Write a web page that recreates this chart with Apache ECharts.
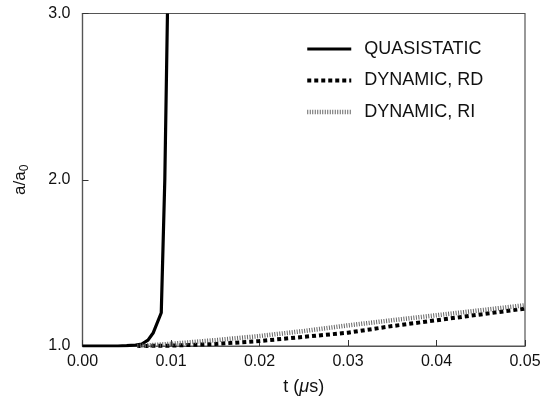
<!DOCTYPE html>
<html>
<head>
<meta charset="utf-8">
<script src="https://cdn.jsdelivr.net/npm/echarts@6/dist/echarts.min.js"></script>
<style>
html, body { margin: 0; padding: 0; background: #fff; }
#chart { width: 546px; height: 401px; }
</style>
</head>
<body>
<div id="chart"></div>
<script>
// 数据
var seriesNames = ['QUASISTATIC', 'DYNAMIC, RD', 'DYNAMIC, RI'];
var tQuasi = [0, 0.002, 0.004, 0.005, 0.006, 0.0067, 0.0074, 0.008, 0.0089, 0.0093, 0.0096];
var aQuasi = [1.0, 1.0, 1.0, 1.002, 1.006, 1.012, 1.035, 1.08, 1.2, 2.0, 3.0];
var tDyn = [0.0062, 0.01, 0.015, 0.02, 0.025, 0.03, 0.035, 0.04, 0.045, 0.05];
var aRD = [1.0, 1.002, 1.012, 1.03, 1.055, 1.08, 1.12, 1.155, 1.19, 1.225];
var aRI = [1.0, 1.013, 1.035, 1.06, 1.09, 1.124, 1.155, 1.185, 1.215, 1.245];
var xTicks = [0, 0.01, 0.02, 0.03, 0.04, 0.05];
var yTicks = [1, 2, 3];

function pairs(xs, ys) {
	var out = [];
	for (var i = 0; i < xs.length; i++) out.push([xs[i], ys[i]]);
	return out;
}

var myChart = echarts.init(document.getElementById('chart'));
var font = 'Liberation Sans, Arial, sans-serif';

// 三条线的样式
var styles = [
	{ color: '#000', width: 3.2 },
	{ color: '#000', width: 4, type: [4, 3] },
	{ color: '#666', width: 4.5, type: [1, 1.5] }
];

var option = {
	animation: false,
	grid: { left: 82.5, right: 21, top: 13.5, bottom: 54.5, show: true, borderColor: '#555', borderWidth: 1.2 },
	legend: {
		data: seriesNames.map(function (n, i) {
			return { name: n, lineStyle: styles[i] };
		}),
		orient: 'vertical',
		left: 300,
		top: 35,
		itemWidth: 44,
		itemHeight: 12,
		itemGap: 13.5,
		itemStyle: { opacity: 0 },
		textStyle: { fontFamily: font, fontSize: 18, color: '#111', padding: [0, 0, 0, 8] }
	},
	xAxis: {
		type: 'value',
		min: 0, max: 0.05, interval: 0.01,
		name: '{t|t (}{i|μ}{t|s)}',
		nameLocation: 'middle',
		nameGap: 32,
		nameTextStyle: {
			rich: {
				t: { fontFamily: font, fontSize: 18, color: '#111' },
				i: { fontFamily: font, fontSize: 18, fontStyle: 'italic', color: '#111' }
			}
		},
		axisLine: { lineStyle: { color: '#555', width: 1.2 } },
		axisTick: { inside: true, length: 6, lineStyle: { color: '#333' } },
		splitLine: { show: false },
		axisLabel: {
			fontFamily: font, fontSize: 16, color: '#111', margin: 8,
			formatter: function (v) { return v.toFixed(2); }
		}
	},
	yAxis: {
		type: 'value',
		min: 1, max: 3, interval: 1,
		name: '{a|a/a}{s|0}',
		nameLocation: 'middle',
		nameGap: 52,
		nameRotate: 90,
		nameTextStyle: {
			rich: {
				a: { fontFamily: font, fontSize: 17, color: '#111' },
				s: { fontFamily: font, fontSize: 12, color: '#111', padding: [9, 0, 0, 0] }
			}
		},
		axisLine: { lineStyle: { color: '#555', width: 1.2 } },
		axisTick: { inside: true, length: 6, lineStyle: { color: '#333' } },
		splitLine: { show: false },
		axisLabel: {
			fontFamily: font, fontSize: 16, color: '#111', margin: 12,
			formatter: function (v) { return v.toFixed(1); }
		}
	},
	series: [{
		name: seriesNames[0],
		type: 'line',
		data: pairs(tQuasi, aQuasi),
		symbol: 'none',
		lineStyle: styles[0],
		itemStyle: { color: styles[0].color }
	}, {
		name: seriesNames[1],
		type: 'line',
		data: pairs(tDyn, aRD),
		symbol: 'none',
		lineStyle: styles[1],
		itemStyle: { color: styles[1].color }
	}, {
		name: seriesNames[2],
		type: 'line',
		data: pairs(tDyn, aRI),
		symbol: 'none',
		lineStyle: styles[2],
		itemStyle: { color: styles[2].color }
	}]
};

myChart.setOption(option);
</script>
</body>
</html>
